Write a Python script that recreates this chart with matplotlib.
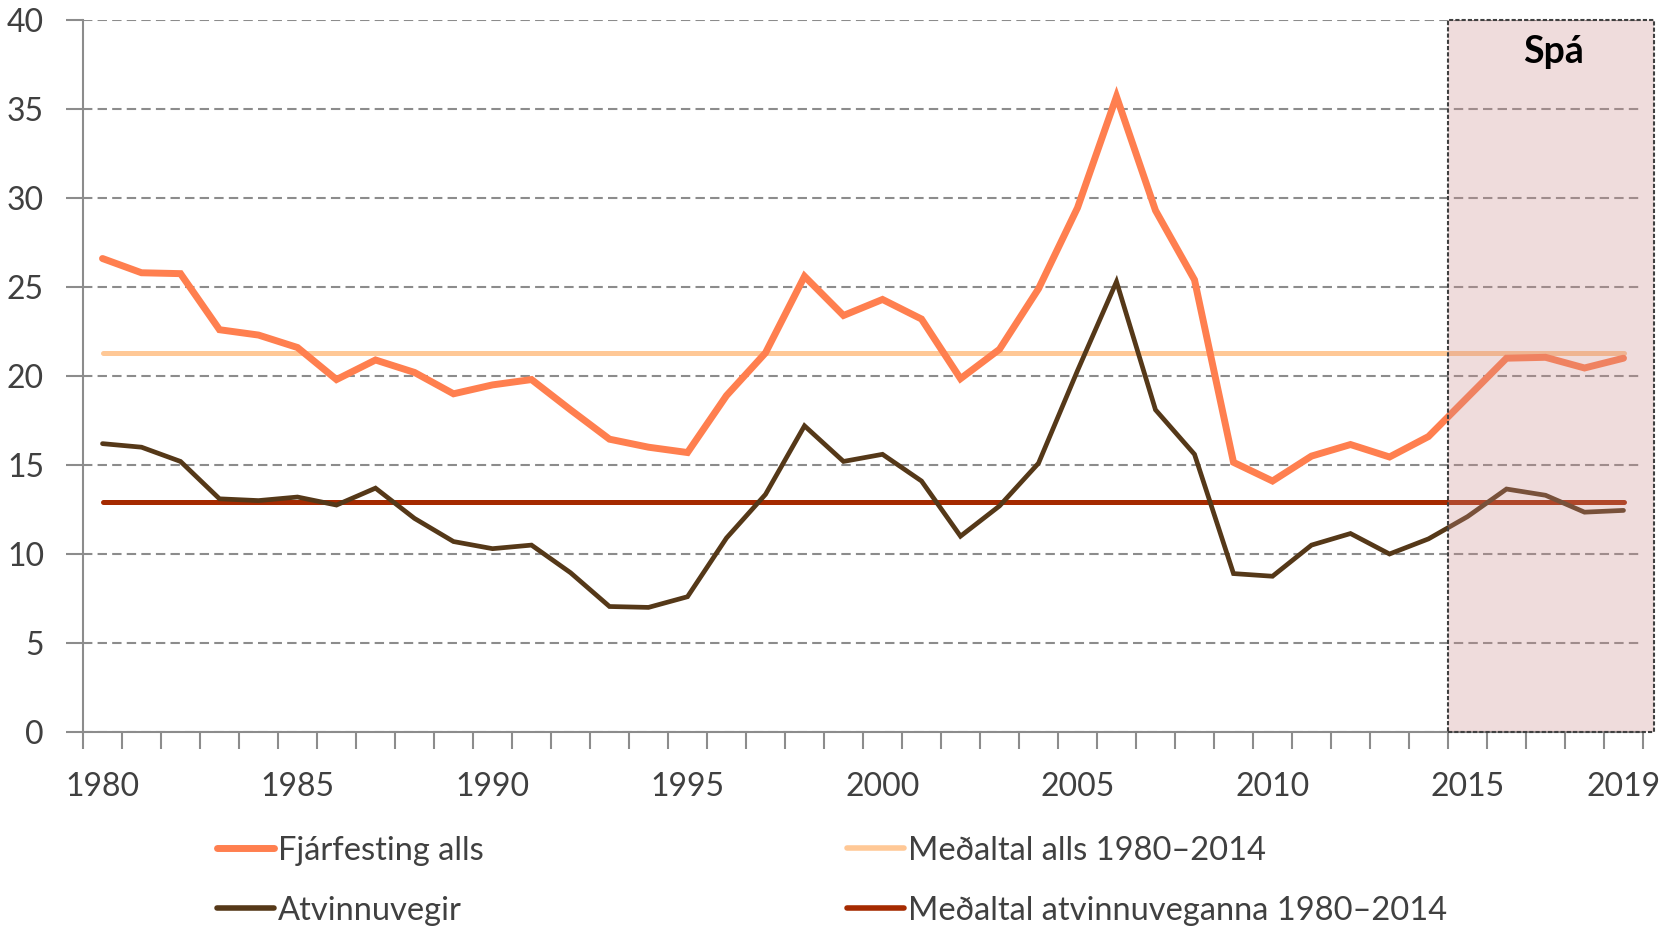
import numpy as np
import matplotlib
matplotlib.use('Agg')
import matplotlib.pyplot as plt
from matplotlib.patches import Rectangle
from matplotlib.lines import Line2D

plt.rcParams['font.family'] = ['Lato', 'DejaVu Sans']

years = np.arange(1980, 2020)
fjarfesting = [26.6, 25.8, 25.75, 22.6, 22.3, 21.6, 19.8, 20.9, 20.2, 19.0,
               19.5, 19.8, 18.1, 16.45, 16.0, 15.7, 18.9, 21.3, 25.6, 23.4,
               24.3, 23.2, 19.85, 21.5, 24.9, 29.45, 35.7, 29.3, 25.4, 15.15,
               14.1, 15.5, 16.15, 15.45, 16.6, 18.8, 21.0, 21.05, 20.45, 21.0]
atvinnuvegir = [16.2, 16.0, 15.2, 13.1, 13.0, 13.2, 12.75, 13.7, 12.0, 10.7,
                10.3, 10.5, 8.95, 7.05, 7.0, 7.6, 10.9, 13.35, 17.2, 15.2,
                15.6, 14.1, 11.0, 12.7, 15.1, 20.3, 25.3, 18.1, 15.6, 8.9,
                8.75, 10.5, 11.15, 10.0, 10.85, 12.1, 13.65, 13.3, 12.35, 12.45]
medal_alls = 21.3
medal_atv = 12.9

label_years = [1980, 1985, 1990, 1995, 2000, 2005, 2010, 2015, 2019]
forecast_start = 2015

c_orange = '#FF7F4F'
c_dark = '#553818'
c_light = '#FFC896'
c_red = '#A52A00'
c_grid = '#8C8C8C'
c_text = '#404040'

fig = plt.figure(figsize=(16.62, 9.3), dpi=100)
ax = fig.add_axes([0.04994, 0.2129, 0.93863, 0.7656])

ax.plot(years, [medal_alls] * len(years), color=c_light, lw=3.6,
        solid_capstyle='round', zorder=3)
ax.plot(years, [medal_atv] * len(years), color=c_red, lw=3.6,
        solid_capstyle='round', zorder=3)
ax.plot(years, fjarfesting, color=c_orange, lw=5, solid_capstyle='round',
        solid_joinstyle='miter', zorder=4)
ax.plot(years, atvinnuvegir, color=c_dark, lw=3.4, solid_capstyle='round',
        solid_joinstyle='miter', zorder=4)

# spá box
rect = Rectangle((forecast_start - 0.5, 0), 5.28, 40,
                 facecolor=(0.80, 0.55, 0.55, 0.3), edgecolor='#404040',
                 lw=1.5, linestyle=(0, (2, 1)), clip_on=False, zorder=5)
ax.add_patch(rect)
ax.text(2017.2, 38.2, 'Spá', ha='center', va='center', fontsize=27,
        fontweight='bold', color='black', zorder=6)

ax.set_xlim(1979.5, 2019.5)
ax.set_ylim(0, 40)

ax.set_yticks(np.arange(0, 41, 5))
ax.yaxis.grid(True, color=c_grid, lw=1.5, linestyle=(0, (4.5, 2.5)), zorder=1)
ax.set_axisbelow(True)

ax.set_xticks(np.arange(1979.5, 2020, 1))
ax.set_xticklabels([])
ax.set_xticks(label_years, minor=True)
ax.set_xticklabels([str(y) for y in label_years], minor=True)
ax.tick_params(axis='x', which='major', length=12, width=1.5, color=c_grid)
ax.tick_params(axis='x', which='minor', length=0, pad=29, labelsize=23,
               labelcolor=c_text)
ax.tick_params(axis='y', length=12, width=1.5, color=c_grid, pad=16,
               labelsize=23, labelcolor=c_text)

for s in ['top', 'right']:
    ax.spines[s].set_visible(False)
for s in ['left', 'bottom']:
    ax.spines[s].set_color(c_grid)
    ax.spines[s].set_linewidth(1.5)

h1 = [Line2D([], [], color=c_orange, lw=5, solid_capstyle='round'),
      Line2D([], [], color=c_dark, lw=4, solid_capstyle='round')]
h2 = [Line2D([], [], color=c_light, lw=4, solid_capstyle='round'),
      Line2D([], [], color=c_red, lw=4, solid_capstyle='round')]
kw = dict(loc='center left', frameon=False, fontsize=23.5, borderpad=0,
          borderaxespad=0, handlelength=1.75, handletextpad=0.12,
          labelspacing=0.92, labelcolor=c_text)
fig.legend(h1, ['Fjárfesting alls', 'Atvinnuvegir'],
           bbox_to_anchor=(0.1306, 0.0531), **kw)
fig.legend(h2, ['Meðaltal alls 1980–2014', 'Meðaltal atvinnuveganna 1980–2014'],
           bbox_to_anchor=(0.5096, 0.0531), **kw)

plt.savefig('out.png', dpi=100)
